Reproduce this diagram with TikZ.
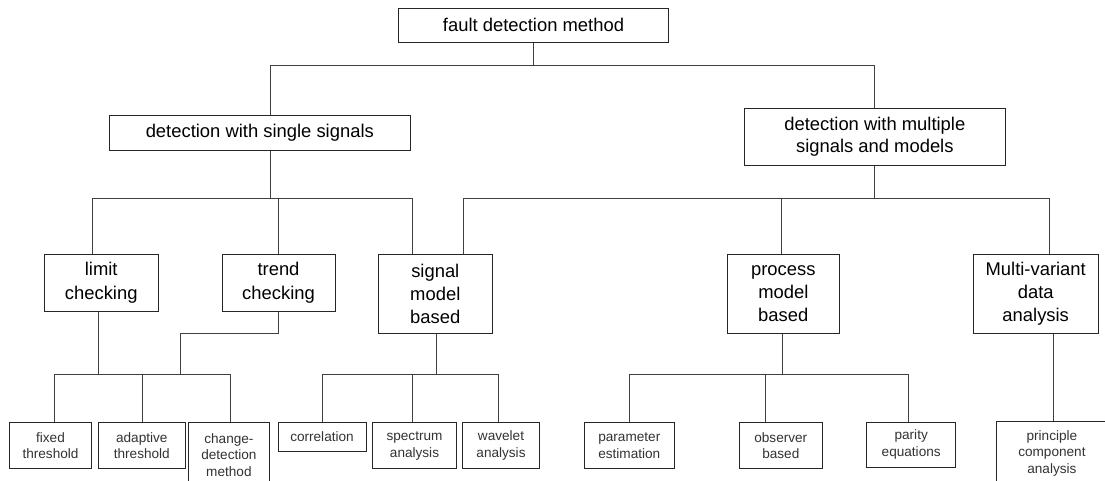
\documentclass[tikz,border=0pt]{standalone}
\usepackage{fontspec}
\setmainfont{Liberation Sans}
\begin{document}
\begin{tikzpicture}[x=1pt,y=-1pt,
  box/.style={draw=black!85,line width=0.9pt,fill=white,inner sep=0pt,
    align=center,text=black,font=\fontsize{18.4}{23.3}\selectfont},
  leaf/.style={draw=black!85,line width=0.9pt,fill=white,inner sep=0pt,
    align=center,text=black!80,font=\fontsize{13.6}{16.7}\selectfont},
  conn/.style={draw=black!75,line width=0.9pt}]
\fill[white] (0,0) rectangle (1105,481);
\useasboundingbox (0,0) rectangle (1105,481);

% top levels
\node[box,minimum width=269.6pt,minimum height=34.3pt] (root) at (533.5,25.2) {fault detection method};
\node[box,minimum width=301pt,minimum height=35.3pt] (sgl) at (259.8,132.7) {detection with single signals};
\node[box,minimum width=261pt,minimum height=57pt,
  font=\fontsize{18.4}{22.3}\selectfont] (mlt) at (874.8,136.8) {detection with multiple\\signals and models};

% method groups
\node[box,minimum width=113.7pt,minimum height=57pt] (lim) at (101.2,282.8) {limit\\checking};
\node[box,minimum width=113pt,minimum height=57pt] (trd) at (278.5,282.8) {trend\\checking};
\node[box,minimum width=114pt,minimum height=79pt] (sig) at (435.3,293.8) {signal\\model\\based};
\node[box,minimum width=111.3pt,minimum height=79pt] (prc) at (783.3,293.8) {process\\model\\based};
\node[box,minimum width=124.7pt,minimum height=79pt] (mva) at (1035.7,293.8) {Multi-variant\\data\\analysis};

% individual methods
\node[leaf,minimum width=82.4pt,minimum height=46pt] (fix) at (50.5,445.7) {fixed\\threshold};
\node[leaf,minimum width=87pt,minimum height=46pt] (adp) at (141.8,445.7) {adaptive\\threshold};
\node[leaf,minimum width=80.3pt,minimum height=64.6pt] (chg) at (228.9,455) {change-\\detection\\method};
\node[leaf,minimum width=88pt,minimum height=28.3pt] (cor) at (322,436.8) {correlation};
\node[leaf,minimum width=84.4pt,minimum height=46pt] (spc) at (414.5,445.7) {spectrum\\analysis};
\node[leaf,minimum width=76.6pt,minimum height=46pt] (wav) at (501,445.7) {wavelet\\analysis};
\node[leaf,minimum width=90pt,minimum height=46pt] (par) at (629.3,445.7) {parameter\\estimation};
\node[leaf,minimum width=83pt,minimum height=46pt] (obs) at (780.8,445.7) {observer\\based};
\node[leaf,minimum width=89pt,minimum height=45.3pt] (pty) at (911.2,444.7) {parity\\equations};
\node[leaf,minimum width=110.3pt,minimum height=64.6pt] (pca) at (1051.9,453.3) {principle\\component\\analysis};

% bus levels
\coordinate (busA) at (0,65.7);
\coordinate (busB) at (0,198.7);
\coordinate (busC) at (0,374.3);
\coordinate (bend) at (180.3,333);

% root to first split
\draw[conn] (root.south) -- (root.south |- busA);
\draw[conn] ([xshift=10.5pt]sgl.north) |- (mlt.north |- busA) -- (mlt.north);

% single signals
\draw[conn] ([xshift=10.5pt]sgl.south) -- ([xshift=10.5pt]sgl.south |- busB);
\draw[conn] ([xshift=-8.9pt]lim.north) |- ([xshift=-23pt]sig.north |- busB) -- ([xshift=-23pt]sig.north);
\draw[conn] (trd.north) -- (trd.north |- busB);

% multiple signals and models
\draw[conn] (mlt.south) -- (mlt.south |- busB);
\draw[conn] ([xshift=27.7pt]sig.north) |- ([xshift=13.3pt]mva.north |- busB) -- ([xshift=13.3pt]mva.north);
\draw[conn] ([xshift=-1.6pt]prc.north) -- ([xshift=-1.6pt]prc.north |- busB);

% limit and trend checking
\draw[conn] ([xshift=-2.9pt]lim.south) -- ([xshift=-2.9pt]lim.south |- busC);
\draw[conn] (trd.south) |- (bend) -- (bend |- busC);
\draw[conn] ([xshift=3.5pt]fix.north) |- ([xshift=1.1pt]chg.north |- busC) -- ([xshift=1.1pt]chg.north);
\draw[conn] ([xshift=0.9pt]adp.north) -- ([xshift=0.9pt]adp.north |- busC);

% signal model based
\draw[conn] ([xshift=0.7pt]sig.south) -- ([xshift=0.7pt]sig.south |- busC);
\draw[conn] (cor.north) |- ([xshift=-2.3pt]wav.north |- busC) -- ([xshift=-2.3pt]wav.north);
\draw[conn] ([xshift=-1.8pt]spc.north) -- ([xshift=-1.8pt]spc.north |- busC);

% process model based
\draw[conn] ([xshift=-1.3pt]prc.south) -- ([xshift=-1.3pt]prc.south |- busC);
\draw[conn] (par.north) |- ([xshift=-2.9pt]pty.north |- busC) -- ([xshift=-2.9pt]pty.north);
\draw[conn] ([xshift=-15.8pt]obs.north) -- ([xshift=-15.8pt]obs.north |- busC);

% multi-variant data analysis
\draw[conn] ([xshift=17.6pt]mva.south) -- ([xshift=17.6pt]mva.south |- pca.north);
\end{tikzpicture}
\end{document}
